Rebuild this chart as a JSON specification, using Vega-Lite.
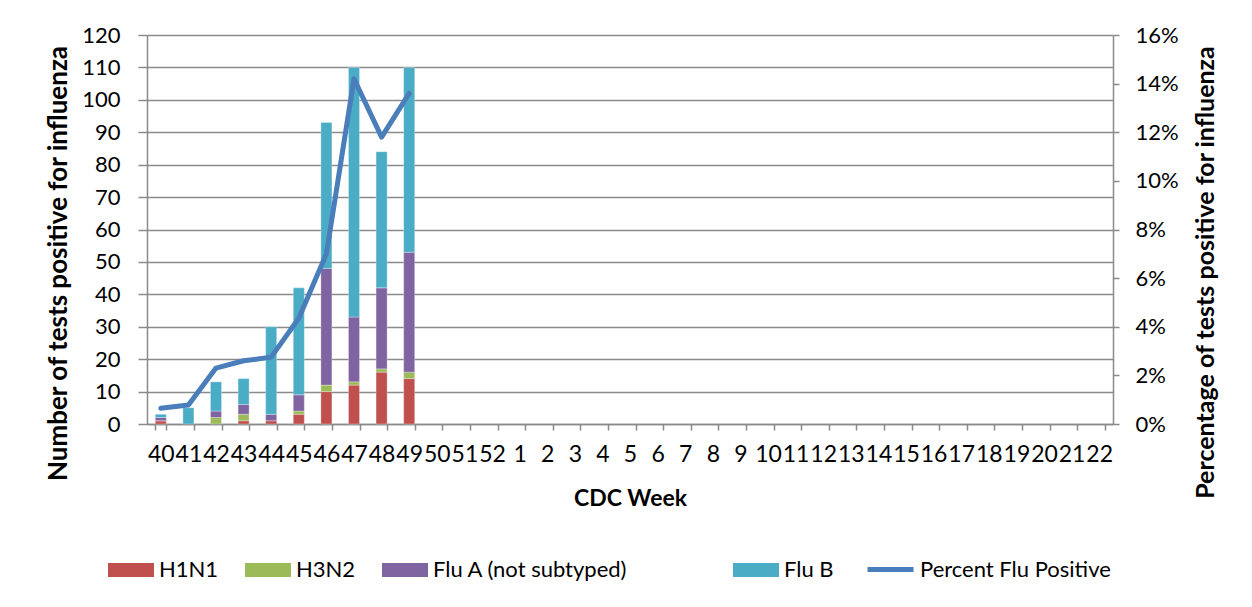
{
  "$schema": "https://vega.github.io/schema/vega-lite/v6.json",
  "autosize": "none",
  "width": 966,
  "height": 389,
  "padding": {"left": 147, "top": 35, "right": 139, "bottom": 183},
  "background": "white",
  "config": {
    "font": "Lato",
    "view": {"stroke": null},
    "axis": {"labelFont": "Lato", "titleFont": "Lato", "labelColor": "#000", "titleColor": "#000", "domainColor": "#8a8a8a", "tickColor": "#8a8a8a", "gridColor": "#8a8a8a", "domainWidth": 1.5, "tickWidth": 1.5, "gridWidth": 1.5}
  },
  "datasets": {
    "bars": [
      {"week": "40", "type": "H1N1", "count": 1},
      {"week": "40", "type": "H3N2", "count": 0},
      {"week": "40", "type": "Flu A (not subtyped)", "count": 1},
      {"week": "40", "type": "Flu B", "count": 1},
      {"week": "41", "type": "Flu B", "count": 5},
      {"week": "42", "type": "H3N2", "count": 2},
      {"week": "42", "type": "Flu A (not subtyped)", "count": 2},
      {"week": "42", "type": "Flu B", "count": 9},
      {"week": "43", "type": "H1N1", "count": 1},
      {"week": "43", "type": "H3N2", "count": 2},
      {"week": "43", "type": "Flu A (not subtyped)", "count": 3},
      {"week": "43", "type": "Flu B", "count": 8},
      {"week": "44", "type": "H1N1", "count": 1},
      {"week": "44", "type": "Flu A (not subtyped)", "count": 2},
      {"week": "44", "type": "Flu B", "count": 27},
      {"week": "45", "type": "H1N1", "count": 3},
      {"week": "45", "type": "H3N2", "count": 1},
      {"week": "45", "type": "Flu A (not subtyped)", "count": 5},
      {"week": "45", "type": "Flu B", "count": 33},
      {"week": "46", "type": "H1N1", "count": 10},
      {"week": "46", "type": "H3N2", "count": 2},
      {"week": "46", "type": "Flu A (not subtyped)", "count": 36},
      {"week": "46", "type": "Flu B", "count": 45},
      {"week": "47", "type": "H1N1", "count": 12},
      {"week": "47", "type": "H3N2", "count": 1},
      {"week": "47", "type": "Flu A (not subtyped)", "count": 20},
      {"week": "47", "type": "Flu B", "count": 77},
      {"week": "48", "type": "H1N1", "count": 16},
      {"week": "48", "type": "H3N2", "count": 1},
      {"week": "48", "type": "Flu A (not subtyped)", "count": 25},
      {"week": "48", "type": "Flu B", "count": 42},
      {"week": "49", "type": "H1N1", "count": 14},
      {"week": "49", "type": "H3N2", "count": 2},
      {"week": "49", "type": "Flu A (not subtyped)", "count": 37},
      {"week": "49", "type": "Flu B", "count": 57}
    ],
    "pct": [
      {"week": "40", "pct": 0.0065},
      {"week": "41", "pct": 0.0078},
      {"week": "42", "pct": 0.023},
      {"week": "43", "pct": 0.026},
      {"week": "44", "pct": 0.0275},
      {"week": "45", "pct": 0.0435},
      {"week": "46", "pct": 0.07},
      {"week": "47", "pct": 0.142},
      {"week": "48", "pct": 0.118},
      {"week": "49", "pct": 0.136}
    ]
  },
  "encoding": {
    "x": {
      "field": "week",
      "type": "nominal",
      "sort": null,
      "scale": {"domain": ["40","41","42","43","44","45","46","47","48","49","50","51","52","1","2","3","4","5","6","7","8","9","10","11","12","13","14","15","16","17","18","19","20","21","22"], "paddingInner": 0.6, "paddingOuter": 0.3},
      "axis": {"title": "CDC Week", "titleFontSize": 23, "titleFontWeight": "bold", "titlePadding": 21, "labelFontSize": 23, "labelAngle": 0, "labelOverlap": false, "labelPadding": 13, "tickSize": 6, "tickBand": "extent", "domainColor": "#8a8a8a"}
    }
  },
  "layer": [
    {
      "data": {"name": "bars"},
      "transform": [{"calculate": "indexof(['H1N1','H3N2','Flu A (not subtyped)','Flu B'], datum.type)", "as": "stackOrder"}],
      "mark": {"type": "bar", "stroke": "white", "strokeWidth": 0.5, "strokeOpacity": 0.6},
      "encoding": {
        "y": {
          "field": "count", "type": "quantitative", "stack": "zero",
          "scale": {"domain": [0, 120]},
          "axis": {"title": "Number of tests positive for influenza", "titleFontSize": 26, "titleFontWeight": "bold", "titlePadding": 10, "titleY": 228, "labelFontSize": 22, "values": [0,10,20,30,40,50,60,70,80,90,100,110,120], "tickSize": 9, "labelPadding": 18, "grid": true}
        },
        "order": {"field": "stackOrder", "type": "quantitative"},
        "color": {
          "field": "type", "type": "nominal",
          "scale": {"domain": ["H1N1", "H3N2", "Flu A (not subtyped)", "Flu B"], "range": ["#C0504D", "#9BBB59", "#8064A2", "#4BACC6"]},
          "legend": {
            "title": null, "orient": "none", "direction": "horizontal", "columns": 4,
            "legendX": -39, "legendY": 512,
            "labelFontSize": 22, "labelFont": "Lato", "labelColor": "#000",
            "symbolSize": 2116, "symbolType": "M-1,-0.3H1V0.3H-1Z", "symbolStrokeWidth": 0, "symbolOpacity": 1,
            "labelOffset": 5, "columnPadding": 26, "labelLimit": 600,
            "labelExpr": "datum.label === 'Flu A (not subtyped)' ? datum.label + '\u00a0\u00a0\u00a0\u00a0\u00a0\u00a0\u00a0\u00a0\u00a0\u00a0\u00a0\u00a0\u00a0\u00a0\u200b' : datum.label"
          }
        }
      }
    },
    {
      "data": {"name": "pct"},
      "mark": {"type": "line", "strokeWidth": 5, "strokeCap": "round", "strokeJoin": "round"},
      "encoding": {
        "y": {
          "field": "pct", "type": "quantitative",
          "scale": {"domain": [0, 0.16]},
          "axis": {"orient": "right", "title": "Percentage of tests positive for influenza", "titleFontSize": 25, "titleFontWeight": "bold", "titleAngle": 270, "titlePadding": 40, "titleY": 237, "labelFontSize": 22, "format": ".0%", "values": [0,0.02,0.04,0.06,0.08,0.1,0.12,0.14,0.16], "tickSize": 6, "labelPadding": 16, "grid": false}
        },
        "stroke": {
          "datum": "Percent Flu Positive",
          "scale": {"domain": ["Percent Flu Positive"], "range": ["#4A7EBB"]},
          "legend": {
            "title": null, "orient": "none", "legendX": 718, "legendY": 509,
            "labelFontSize": 22, "labelFont": "Lato", "labelColor": "#000",
            "symbolType": "stroke", "symbolSize": 2116, "symbolStrokeWidth": 5, "labelOffset": 4, "labelLimit": 400
          }
        }
      }
    }
  ],
  "resolve": {"scale": {"y": "independent"}}
}
